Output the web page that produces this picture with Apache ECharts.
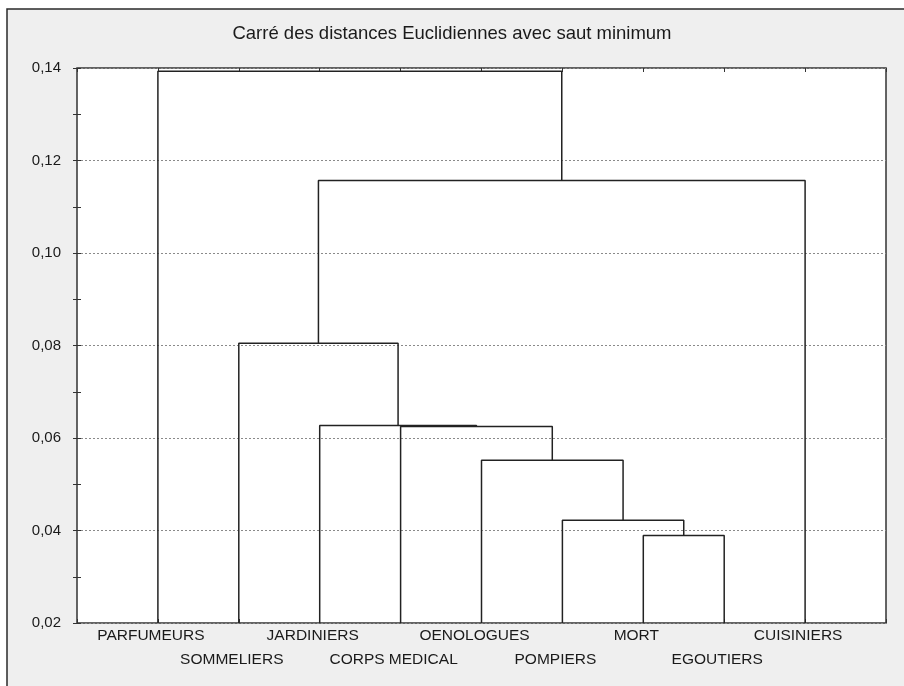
<!DOCTYPE html>
<html>
<head>
<meta charset="utf-8">
<script src="https://cdn.jsdelivr.net/npm/echarts@6/dist/echarts.min.js"></script>
<style>
html,body{margin:0;padding:0;background:#ffffff;}
#chart{width:904px;height:686px;}
</style>
</head>
<body>
<div id="chart"></div>
<script>
// ---- data ----
const titleText = 'Carré des distances Euclidiennes avec saut minimum';
const leaves = ['PARFUMEURS','SOMMELIERS','JARDINIERS','CORPS MEDICAL','OENOLOGUES','POMPIERS','MORT','EGOUTIERS','CUISINIERS'];
// merges: node ids 0..8 are leaves, merge k creates node 9+k
const mergeA = [6, 5, 4, 3, 2, 1, 14, 0];
const mergeB = [7, 9, 10, 11, 12, 13, 8, 15];
const mergeHeight = [0.0389, 0.0422, 0.0552, 0.0625, 0.0627, 0.0805, 0.1157, 0.1393];
const yTicks = [0.02, 0.04, 0.06, 0.08, 0.10, 0.12, 0.14];

// ---- build dendrogram segments ----
const yMin = yTicks[0], yMax = yTicks[yTicks.length - 1];
const nodeX = leaves.map((_, i) => i + 1);
const nodeY = leaves.map(() => yMin);
const series = [];
for (let k = 0; k < mergeA.length; k++) {
  const a = mergeA[k], b = mergeB[k], h = mergeHeight[k];
  series.push({
    type: 'line',
    data: [[nodeX[a], nodeY[a]], [nodeX[a], h], [nodeX[b], h], [nodeX[b], nodeY[b]]],
    symbol: 'none',
    silent: true,
    lineStyle: { color: '#222', width: 1.5 },
    z: 5
  });
  nodeX.push((nodeX[a] + nodeX[b]) / 2);
  nodeY.push(h);
}

const font = 'Liberation Sans, Arial, sans-serif';
const chart = echarts.init(document.getElementById('chart'), null, { renderer: 'canvas' });
chart.setOption({
  animation: false,
  backgroundColor: '#ffffff',
  graphic: [{
    type: 'rect',
    shape: { x: 7, y: 9, width: 920, height: 700 },
    style: { fill: '#efefef', stroke: '#2a2a2a', lineWidth: 1.5 },
    z: -10, silent: true
  }],
  title: {
    text: titleText,
    left: 'center',
    top: 19,
    textStyle: { fontFamily: font, fontSize: 18.5, fontWeight: 'normal', color: '#1a1a1a' }
  },
  grid: {
    left: 77, right: 18, top: 68, bottom: 63,
    show: true, backgroundColor: '#ffffff', borderColor: '#333', borderWidth: 1.5
  },
  xAxis: [{
    type: 'value', min: 0, max: leaves.length + 1, interval: 1,
    position: 'bottom',
    axisLine: { show: false },
    axisTick: { show: true, inside: true, length: 4, lineStyle: { color: '#333' } },
    splitLine: { show: false },
    axisLabel: {
      show: true, margin: 1, interval: 0,
      fontFamily: font, fontSize: 15.5, color: '#1a1a1a', lineHeight: 24,
      padding: [0, 14, 0, 0],
      formatter: function (v) {
        const i = Math.round(v) - 1;
        if (i < 0 || i >= leaves.length) return '';
        return (i % 2 === 0) ? leaves[i] : '\n' + leaves[i];
      }
    }
  }, {
    type: 'value', min: 0, max: leaves.length + 1, interval: 1,
    position: 'top',
    axisLine: { show: false },
    axisTick: { show: true, inside: true, length: 4, lineStyle: { color: '#333' } },
    splitLine: { show: false },
    axisLabel: { show: false }
  }],
  yAxis: [{
    type: 'value', min: yMin, max: yMax, interval: 0.02,
    position: 'left',
    axisLine: { show: false },
    axisTick: { show: true, inside: true, length: 4, lineStyle: { color: '#333' } },
    minorTick: { show: true, splitNumber: 2, length: 4, lineStyle: { color: '#333' } },
    splitLine: { show: true, lineStyle: { color: '#8a8a8a', type: [2, 2], width: 1 } },
    axisLabel: {
      margin: 16, fontFamily: font, fontSize: 15, color: '#1a1a1a',
      formatter: function (v) { return v.toFixed(2).replace('.', ','); }
    }
  }, {
    type: 'value', min: yMin, max: yMax, interval: 0.02,
    position: 'right',
    axisLine: { show: false },
    axisTick: { show: true, inside: true, length: 4, lineStyle: { color: '#333' } },
    minorTick: { show: true, splitNumber: 2, length: 4, lineStyle: { color: '#333' } },
    splitLine: { show: false },
    axisLabel: { show: false }
  }],
  series: series
});
</script>
</body>
</html>
